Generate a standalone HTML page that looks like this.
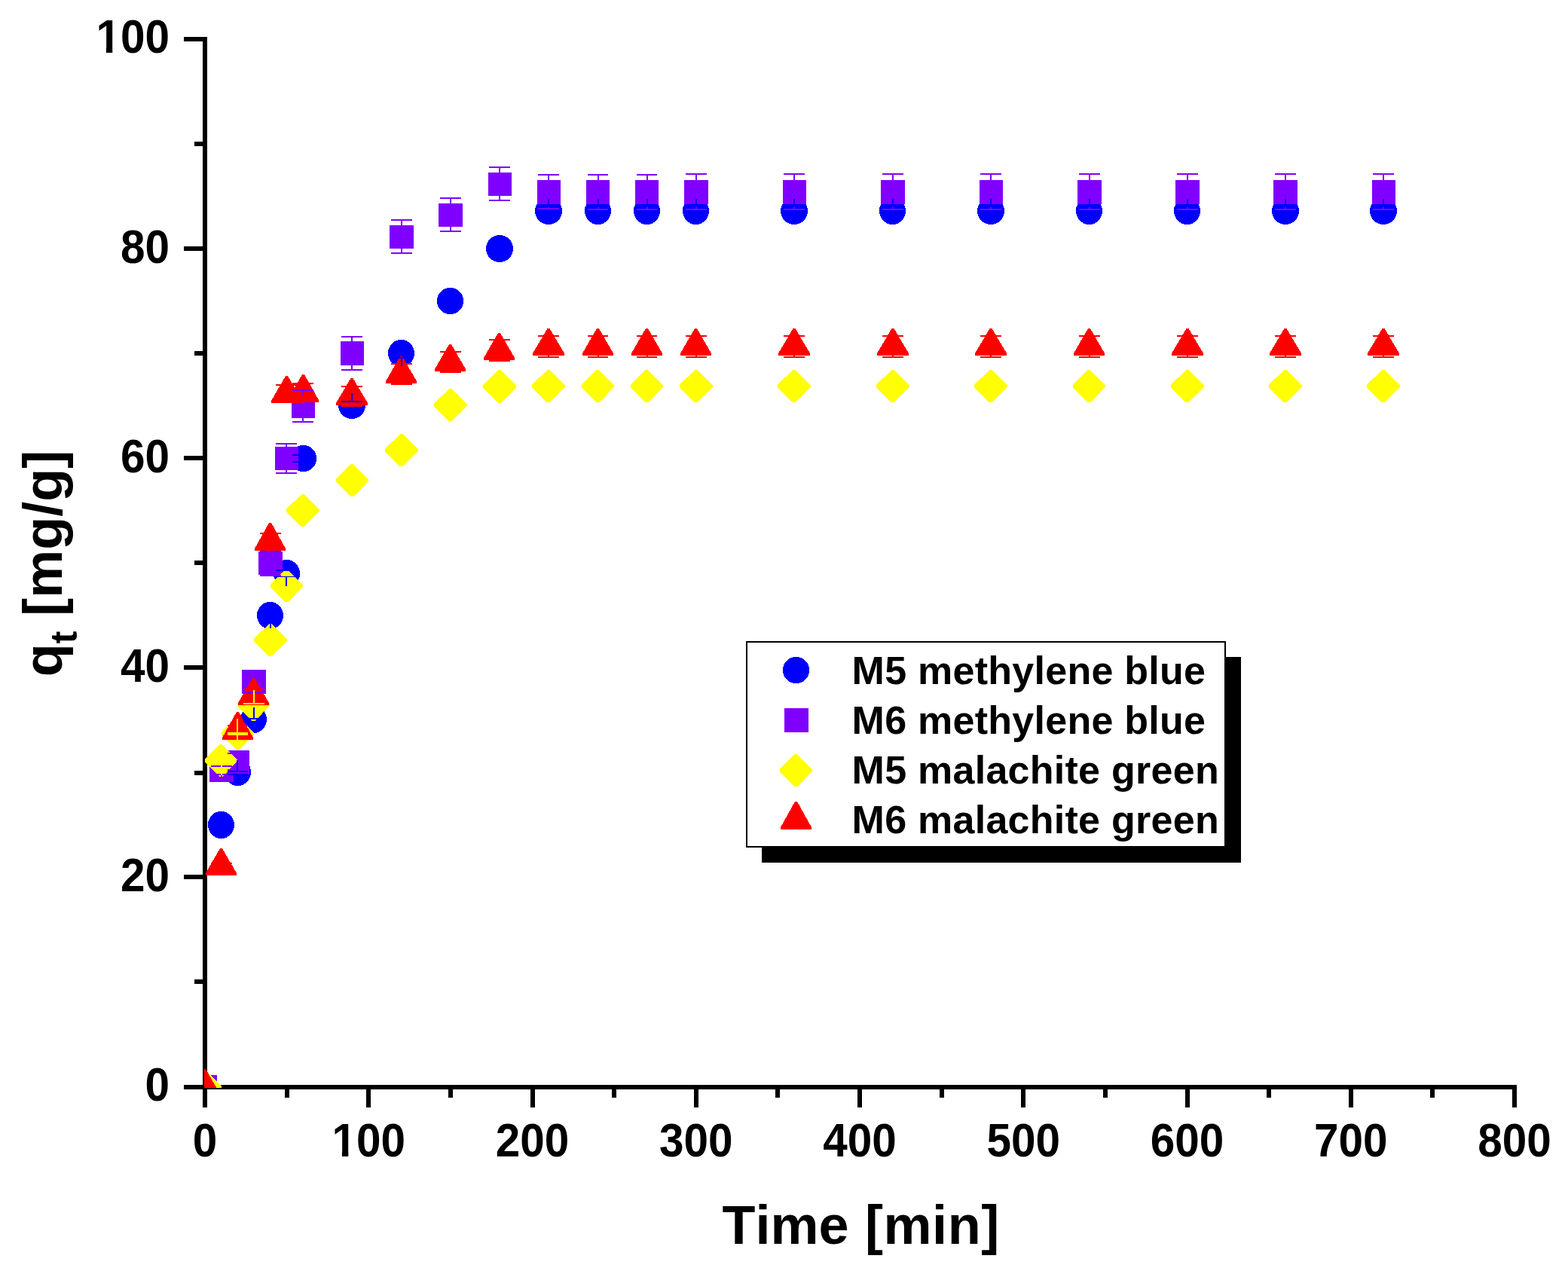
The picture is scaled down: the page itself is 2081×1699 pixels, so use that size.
<!DOCTYPE html>
<html lang="en">
<head>
<meta charset="utf-8">
<title>Adsorption kinetics: q_t versus time</title>
<style>
html, body { margin: 0; padding: 0; background: #ffffff; }
body { width: 2081px; height: 1699px; overflow: hidden; }
svg { display: block; }
text { font-kerning: none; }
</style>
</head>
<body>
<svg width="2081" height="1699" viewBox="0 0 2081 1699">
<defs><clipPath id="plot"><rect x="271" y="40" width="1760" height="1404"/></clipPath><clipPath id="one-end"><rect x="-110" y="-60" width="120" height="53.4"/><rect x="-86.3" y="-7" width="8.6" height="9"/><rect x="-66.7" y="-7" width="77" height="9"/></clipPath><clipPath id="one-mid"><rect x="-60" y="-60" width="120" height="53.4"/><rect x="-36.25" y="-7" width="8.6" height="9"/><rect x="-16.65" y="-7" width="77" height="9"/></clipPath></defs>
<rect width="2081" height="1699" fill="#fff"/>
<g id="axes" fill="#000" shape-rendering="crispEdges">
<rect x="269" y="49" width="6" height="1421"/>
<rect x="244" y="1440" width="1769" height="6"/>
<rect x="258" y="1300" width="11" height="6"/>
<rect x="244" y="1161" width="25" height="6"/>
<rect x="258" y="1023" width="11" height="6"/>
<rect x="244" y="883" width="25" height="6"/>
<rect x="258" y="744" width="11" height="6"/>
<rect x="244" y="605" width="25" height="6"/>
<rect x="258" y="466" width="11" height="6"/>
<rect x="244" y="327" width="25" height="6"/>
<rect x="258" y="188" width="11" height="6"/>
<rect x="244" y="49" width="25" height="6"/>
<rect x="378" y="1446" width="6" height="11"/>
<rect x="486" y="1446" width="6" height="24"/>
<rect x="595" y="1446" width="6" height="11"/>
<rect x="704" y="1446" width="6" height="24"/>
<rect x="812" y="1446" width="6" height="11"/>
<rect x="921" y="1446" width="6" height="24"/>
<rect x="1029" y="1446" width="6" height="11"/>
<rect x="1138" y="1446" width="6" height="24"/>
<rect x="1247" y="1446" width="6" height="11"/>
<rect x="1355" y="1446" width="6" height="24"/>
<rect x="1464" y="1446" width="6" height="11"/>
<rect x="1573" y="1446" width="6" height="24"/>
<rect x="1681" y="1446" width="6" height="11"/>
<rect x="1790" y="1446" width="6" height="24"/>
<rect x="1898" y="1446" width="6" height="11"/>
<rect x="2007" y="1446" width="6" height="24"/>
</g>
<g id="labels" font-family="'Liberation Sans', Arial, Helvetica, sans-serif" font-weight="bold" fill="#000">
<g font-size="60" text-anchor="end">
<text transform="translate(225 1461) scale(0.975 1.05)">0</text>
<text transform="translate(225 1183) scale(0.975 1.05)">20</text>
<text transform="translate(225 905) scale(0.975 1.05)">40</text>
<text transform="translate(225 627) scale(0.975 1.05)">60</text>
<text transform="translate(225 349) scale(0.975 1.05)">80</text>
<text transform="translate(225 70) scale(0.975 1.05)" clip-path="url(#one-end)">100</text>
</g>
<g font-size="60" text-anchor="middle">
<text transform="translate(272 1535) scale(0.975 1.05)">0</text>
<text transform="translate(489.25 1535) scale(0.975 1.05)" clip-path="url(#one-mid)">100</text>
<text transform="translate(706.5 1535) scale(0.975 1.05)">200</text>
<text transform="translate(923.75 1535) scale(0.975 1.05)">300</text>
<text transform="translate(1141 1535) scale(0.975 1.05)">400</text>
<text transform="translate(1358.25 1535) scale(0.975 1.05)">500</text>
<text transform="translate(1575.5 1535) scale(0.975 1.05)">600</text>
<text transform="translate(1792.75 1535) scale(0.975 1.05)">700</text>
<text transform="translate(2010 1535) scale(0.975 1.05)">800</text>
</g>
<text x="958.5" y="1651" font-size="72" word-spacing="1.35">Time <tspan letter-spacing="0.6">[min]</tspan></text>
<text transform="translate(82 748) rotate(-90)" font-size="72" text-anchor="middle">q<tspan font-size="50" dy="20">t</tspan><tspan dy="-20"> [mg/g]</tspan></text>
</g>
<g id="data" clip-path="url(#plot)" shape-rendering="crispEdges">
<g id="m5-methylene-blue"><ellipse cx="272" cy="1443" rx="18.1" ry="18.1" fill="#0000ff"/><ellipse cx="293.5" cy="1095" rx="17.6" ry="18.1" fill="#0000ff"/><ellipse cx="315.5" cy="1025" rx="17.6" ry="18.1" fill="#0000ff"/><ellipse cx="336.5" cy="955" rx="17.6" ry="18.1" fill="#0000ff"/><ellipse cx="358.5" cy="817" rx="17.6" ry="18.1" fill="#0000ff"/><ellipse cx="380.5" cy="761" rx="17.6" ry="18.1" fill="#0000ff"/><ellipse cx="402.5" cy="608.5" rx="17.6" ry="17.6" fill="#0000ff"/><ellipse cx="467" cy="538" rx="18.1" ry="18.1" fill="#0000ff"/><ellipse cx="532.5" cy="469" rx="17.6" ry="18.1" fill="#0000ff"/><ellipse cx="597.5" cy="399.5" rx="17.6" ry="17.6" fill="#0000ff"/><ellipse cx="663" cy="330" rx="18.1" ry="18.1" fill="#0000ff"/><ellipse cx="728" cy="280" rx="18.1" ry="18.1" fill="#0000ff"/><ellipse cx="793.5" cy="280" rx="17.6" ry="18.1" fill="#0000ff"/><ellipse cx="858.5" cy="280" rx="17.6" ry="18.1" fill="#0000ff"/><ellipse cx="923.5" cy="280" rx="17.6" ry="18.1" fill="#0000ff"/><ellipse cx="1054" cy="280" rx="18.1" ry="18.1" fill="#0000ff"/><ellipse cx="1184.5" cy="280" rx="17.6" ry="18.1" fill="#0000ff"/><ellipse cx="1315" cy="280" rx="18.1" ry="18.1" fill="#0000ff"/><ellipse cx="1445.5" cy="280" rx="17.6" ry="18.1" fill="#0000ff"/><ellipse cx="1575.5" cy="280" rx="17.6" ry="18.1" fill="#0000ff"/><ellipse cx="1706" cy="280" rx="18.1" ry="18.1" fill="#0000ff"/><ellipse cx="1836" cy="280" rx="18.1" ry="18.1" fill="#0000ff"/></g>
<g id="m6-methylene-blue"><rect x="256" y="1427" width="32" height="32" fill="#8000ff"/><rect x="278" y="1006" width="32" height="32" fill="#8000ff"/><rect x="300" y="996" width="31" height="32" fill="#8000ff"/><rect x="321" y="889" width="32" height="32" fill="#8000ff"/><rect x="343" y="732" width="32" height="31" fill="#8000ff"/><rect x="365" y="593" width="31" height="31" fill="#8000ff"/><rect x="387" y="523" width="31" height="32" fill="#8000ff"/><rect x="452" y="453" width="31" height="32" fill="#8000ff"/><rect x="517" y="299" width="32" height="31" fill="#8000ff"/><rect x="582" y="270" width="32" height="31" fill="#8000ff"/><rect x="648" y="229" width="31" height="31" fill="#8000ff"/><rect x="713" y="239" width="31" height="32" fill="#8000ff"/><rect x="778" y="239" width="31" height="32" fill="#8000ff"/><rect x="843" y="239" width="31" height="32" fill="#8000ff"/><rect x="908" y="239" width="32" height="32" fill="#8000ff"/><rect x="1039" y="239" width="31" height="32" fill="#8000ff"/><rect x="1169" y="239" width="32" height="32" fill="#8000ff"/><rect x="1300" y="239" width="31" height="32" fill="#8000ff"/><rect x="1430" y="239" width="32" height="32" fill="#8000ff"/><rect x="1560" y="239" width="32" height="32" fill="#8000ff"/><rect x="1690" y="239" width="32" height="32" fill="#8000ff"/><rect x="1821" y="239" width="31" height="32" fill="#8000ff"/></g>
<g id="m5-malachite-green"><polygon points="270.5,1421 273.5,1421 294,1442 294,1444 274,1465 270,1465 250,1445 250,1441" fill="#ffff00"/><polygon points="292,988 295,988 315,1008.5 315,1010.5 295.5,1031 291.5,1031 272,1011.5 272,1007.5" fill="#ffff00"/><polygon points="314,952 317,952 337,972.5 337,974.5 317.5,995 313.5,995 294,975.5 294,971.5" fill="#ffff00"/><polygon points="335,914 338,914 358,934.5 358,936.5 338.5,957 334.5,957 315,937.5 315,933.5" fill="#ffff00"/><polygon points="357.5,828 360.5,828 381,848.5 381,850.5 361,871 357,871 337,851.5 337,847.5" fill="#ffff00"/><polygon points="379,756 382,756 402,776.5 402,778.5 382.5,799 378.5,799 359,779.5 359,775.5" fill="#ffff00"/><polygon points="400.5,656 403.5,656 424,676.5 424,678.5 404,699 400,699 380,679.5 380,675.5" fill="#ffff00"/><polygon points="466,616 469,616 489,636.5 489,638.5 469.5,659 465.5,659 446,639.5 446,635.5" fill="#ffff00"/><polygon points="531.5,576 534.5,576 555,596.5 555,598.5 535,619 531,619 511,599.5 511,595.5" fill="#ffff00"/><polygon points="596.5,516 599.5,516 620,536.5 620,538.5 600,559 596,559 576,539.5 576,535.5" fill="#ffff00"/><polygon points="661.5,491 664.5,491 685,512 685,514 665,535 661,535 641,515 641,511" fill="#ffff00"/><polygon points="726.5,491 729.5,491 750,511.5 750,513.5 730,534 726,534 706,514.5 706,510.5" fill="#ffff00"/><polygon points="792,491 795,491 815,511.5 815,513.5 795.5,534 791.5,534 772,514.5 772,510.5" fill="#ffff00"/><polygon points="857,491 860,491 880,511.5 880,513.5 860.5,534 856.5,534 837,514.5 837,510.5" fill="#ffff00"/><polygon points="922.5,491 925.5,491 946,511.5 946,513.5 926,534 922,534 902,514.5 902,510.5" fill="#ffff00"/><polygon points="1052.5,491 1055.5,491 1076,511.5 1076,513.5 1056,534 1052,534 1032,514.5 1032,510.5" fill="#ffff00"/><polygon points="1183.5,491 1186.5,491 1207,511.5 1207,513.5 1187,534 1183,534 1163,514.5 1163,510.5" fill="#ffff00"/><polygon points="1313.5,491 1316.5,491 1337,511.5 1337,513.5 1317,534 1313,534 1293,514.5 1293,510.5" fill="#ffff00"/><polygon points="1444,491 1447,491 1467,511.5 1467,513.5 1447.5,534 1443.5,534 1424,514.5 1424,510.5" fill="#ffff00"/><polygon points="1574.5,491 1577.5,491 1598,511.5 1598,513.5 1578,534 1574,534 1554,514.5 1554,510.5" fill="#ffff00"/><polygon points="1704.5,491 1707.5,491 1728,511.5 1728,513.5 1708,534 1704,534 1684,514.5 1684,510.5" fill="#ffff00"/><polygon points="1834.5,491 1837.5,491 1858,511.5 1858,513.5 1838,534 1834,534 1814,514.5 1814,510.5" fill="#ffff00"/></g>
<g id="m6-malachite-green"><polygon points="270,1419 273,1419 292,1452 292,1455 251,1455 251,1452" fill="#ff0000"/><polygon points="292,1126 295,1126 314,1159 314,1162 273,1162 273,1159" fill="#ff0000"/><polygon points="314,945 317,945 336,979 336,982 295,982 295,979" fill="#ff0000"/><polygon points="335,900 338,900 357,933 357,936 316,936 316,933" fill="#ff0000"/><polygon points="357,694 360,694 379,728 379,731 338,731 338,728" fill="#ff0000"/><polygon points="379,499 382,499 401,532 401,535 360,535 360,532" fill="#ff0000"/><polygon points="401,497 404,497 423,531 423,534 382,534 382,531" fill="#ff0000"/><polygon points="465.5,502 468.5,502 488,535 488,538 446,538 446,535" fill="#ff0000"/><polygon points="531,473 534,473 553,506 553,509 512,509 512,506" fill="#ff0000"/><polygon points="596,457 599,457 618,490 618,493 577,493 577,490" fill="#ff0000"/><polygon points="661,442 664,442 683,475 683,478 642,478 642,475" fill="#ff0000"/><polygon points="726.5,436 729.5,436 749,469 749,472 707,472 707,469" fill="#ff0000"/><polygon points="792,436 795,436 814,469 814,472 773,472 773,469" fill="#ff0000"/><polygon points="857,436 860,436 879,469 879,472 838,472 838,469" fill="#ff0000"/><polygon points="922,436 925,436 944,469 944,472 903,472 903,469" fill="#ff0000"/><polygon points="1052.5,436 1055.5,436 1075,469 1075,472 1033,472 1033,469" fill="#ff0000"/><polygon points="1183.5,436 1186.5,436 1206,469 1206,472 1164,472 1164,469" fill="#ff0000"/><polygon points="1313.5,436 1316.5,436 1336,469 1336,472 1294,472 1294,469" fill="#ff0000"/><polygon points="1444,436 1447,436 1466,469 1466,472 1425,472 1425,469" fill="#ff0000"/><polygon points="1574.5,436 1577.5,436 1597,469 1597,472 1555,472 1555,469" fill="#ff0000"/><polygon points="1704.5,436 1707.5,436 1727,469 1727,472 1685,472 1685,469" fill="#ff0000"/><polygon points="1834.5,436 1837.5,436 1857,469 1857,472 1815,472 1815,469" fill="#ff0000"/></g>
<g id="err-m6mb"><rect x="280" y="1016" width="28" height="2" fill="#8000ff"/><rect x="280" y="1027" width="28" height="2" fill="#8000ff"/><rect x="293" y="1008" width="2" height="9" fill="#8000ff"/><rect x="293" y="1028" width="2" height="8" fill="#8000ff"/><rect x="302" y="999" width="27" height="2" fill="#8000ff"/><rect x="302" y="1021" width="27" height="2" fill="#8000ff"/><rect x="314" y="998" width="2" height="2" fill="#8000ff"/><rect x="314" y="1022" width="2" height="4" fill="#8000ff"/><rect x="323" y="889" width="28" height="2" fill="#8000ff"/><rect x="323" y="918" width="28" height="3" fill="#8000ff"/><rect x="336" y="890" width="2" height="1" fill="#8000ff"/><rect x="345" y="730" width="28" height="2" fill="#8000ff"/><rect x="345" y="763" width="28" height="2" fill="#8000ff"/><rect x="358" y="731" width="2" height="3" fill="#8000ff"/><rect x="358" y="761" width="2" height="3" fill="#8000ff"/><rect x="366" y="588" width="28" height="2" fill="#8000ff"/><rect x="366" y="627" width="28" height="2" fill="#8000ff"/><rect x="379" y="589" width="2" height="6" fill="#8000ff"/><rect x="379" y="622" width="2" height="6" fill="#8000ff"/><rect x="388" y="517" width="28" height="2" fill="#8000ff"/><rect x="388" y="559" width="28" height="2" fill="#8000ff"/><rect x="401" y="518" width="2" height="7" fill="#8000ff"/><rect x="401" y="553" width="2" height="7" fill="#8000ff"/><rect x="453" y="446" width="28" height="2" fill="#8000ff"/><rect x="453" y="490" width="28" height="2" fill="#8000ff"/><rect x="466" y="447" width="2" height="8" fill="#8000ff"/><rect x="466" y="483" width="2" height="8" fill="#8000ff"/><rect x="519" y="291" width="28" height="2" fill="#8000ff"/><rect x="519" y="335" width="28" height="2" fill="#8000ff"/><rect x="532" y="292" width="2" height="9" fill="#8000ff"/><rect x="532" y="328" width="2" height="8" fill="#8000ff"/><rect x="584" y="262" width="28" height="2" fill="#8000ff"/><rect x="584" y="306" width="28" height="2" fill="#8000ff"/><rect x="597" y="263" width="2" height="9" fill="#8000ff"/><rect x="597" y="299" width="2" height="8" fill="#8000ff"/><rect x="649" y="221" width="28" height="2" fill="#8000ff"/><rect x="649" y="265" width="28" height="2" fill="#8000ff"/><rect x="662" y="222" width="2" height="9" fill="#8000ff"/><rect x="662" y="258" width="2" height="8" fill="#8000ff"/><rect x="714" y="231" width="28" height="2" fill="#8000ff"/><rect x="714" y="276" width="28" height="2" fill="#8000ff"/><rect x="727" y="232" width="2" height="9" fill="#8000ff"/><rect x="727" y="269" width="2" height="8" fill="#8000ff"/><rect x="780" y="231" width="27" height="2" fill="#8000ff"/><rect x="780" y="277" width="27" height="2" fill="#8000ff"/><rect x="793" y="232" width="2" height="9" fill="#8000ff"/><rect x="793" y="269" width="2" height="9" fill="#8000ff"/><rect x="845" y="231" width="27" height="2" fill="#8000ff"/><rect x="845" y="277" width="27" height="2" fill="#8000ff"/><rect x="858" y="232" width="2" height="9" fill="#8000ff"/><rect x="858" y="269" width="2" height="9" fill="#8000ff"/><rect x="910" y="230" width="28" height="2" fill="#8000ff"/><rect x="910" y="277" width="28" height="2" fill="#8000ff"/><rect x="923" y="231" width="2" height="10" fill="#8000ff"/><rect x="923" y="269" width="2" height="9" fill="#8000ff"/><rect x="1040" y="230" width="28" height="2" fill="#8000ff"/><rect x="1040" y="277" width="28" height="2" fill="#8000ff"/><rect x="1053" y="231" width="2" height="10" fill="#8000ff"/><rect x="1053" y="269" width="2" height="9" fill="#8000ff"/><rect x="1171" y="230" width="28" height="2" fill="#8000ff"/><rect x="1171" y="277" width="28" height="2" fill="#8000ff"/><rect x="1184" y="231" width="2" height="10" fill="#8000ff"/><rect x="1184" y="269" width="2" height="9" fill="#8000ff"/><rect x="1301" y="230" width="28" height="2" fill="#8000ff"/><rect x="1301" y="277" width="28" height="2" fill="#8000ff"/><rect x="1314" y="231" width="2" height="10" fill="#8000ff"/><rect x="1314" y="269" width="2" height="9" fill="#8000ff"/><rect x="1432" y="230" width="28" height="2" fill="#8000ff"/><rect x="1432" y="277" width="28" height="2" fill="#8000ff"/><rect x="1445" y="231" width="2" height="10" fill="#8000ff"/><rect x="1445" y="269" width="2" height="9" fill="#8000ff"/><rect x="1562" y="230" width="28" height="2" fill="#8000ff"/><rect x="1562" y="277" width="28" height="2" fill="#8000ff"/><rect x="1575" y="231" width="2" height="10" fill="#8000ff"/><rect x="1575" y="269" width="2" height="9" fill="#8000ff"/><rect x="1692" y="230" width="28" height="2" fill="#8000ff"/><rect x="1692" y="277" width="28" height="2" fill="#8000ff"/><rect x="1705" y="231" width="2" height="10" fill="#8000ff"/><rect x="1705" y="269" width="2" height="9" fill="#8000ff"/><rect x="1822" y="230" width="28" height="2" fill="#8000ff"/><rect x="1822" y="277" width="28" height="2" fill="#8000ff"/><rect x="1835" y="231" width="2" height="10" fill="#8000ff"/><rect x="1835" y="269" width="2" height="9" fill="#8000ff"/></g>
<g id="err-m6mg"><rect x="280" y="1145" width="28" height="2" fill="#ff0000"/><rect x="280" y="1153" width="28" height="2" fill="#ff0000"/><rect x="293" y="1129" width="2" height="17" fill="#ff0000"/><rect x="293" y="1154" width="2" height="7" fill="#ff0000"/><rect x="302" y="962" width="27" height="2" fill="#ff0000"/><rect x="302" y="976" width="27" height="2" fill="#ff0000"/><rect x="314" y="948" width="2" height="15" fill="#ff0000"/><rect x="314" y="977" width="2" height="4" fill="#ff0000"/><rect x="323" y="914" width="28" height="2" fill="#ff0000"/><rect x="323" y="932" width="28" height="2" fill="#ff0000"/><rect x="336" y="903" width="2" height="12" fill="#ff0000"/><rect x="336" y="933" width="2" height="2" fill="#ff0000"/><rect x="345" y="707" width="28" height="2" fill="#ff0000"/><rect x="345" y="729" width="28" height="2" fill="#ff0000"/><rect x="358" y="697" width="2" height="11" fill="#ff0000"/><rect x="366" y="510" width="28" height="2" fill="#ff0000"/><rect x="366" y="533" width="28" height="2" fill="#ff0000"/><rect x="379" y="502" width="2" height="9" fill="#ff0000"/><rect x="388" y="508" width="28" height="2" fill="#ff0000"/><rect x="388" y="532" width="28" height="2" fill="#ff0000"/><rect x="401" y="500" width="2" height="9" fill="#ff0000"/><rect x="453" y="512" width="28" height="2" fill="#ff0000"/><rect x="453" y="538" width="28" height="2" fill="#ff0000"/><rect x="466" y="505" width="2" height="8" fill="#ff0000"/><rect x="466" y="537" width="2" height="2" fill="#ff0000"/><rect x="519" y="482" width="28" height="2" fill="#ff0000"/><rect x="519" y="509" width="28" height="2" fill="#ff0000"/><rect x="532" y="476" width="2" height="7" fill="#ff0000"/><rect x="532" y="508" width="2" height="2" fill="#ff0000"/><rect x="584" y="466" width="28" height="2" fill="#ff0000"/><rect x="584" y="493" width="28" height="2" fill="#ff0000"/><rect x="597" y="460" width="2" height="7" fill="#ff0000"/><rect x="597" y="492" width="2" height="2" fill="#ff0000"/><rect x="649" y="450" width="28" height="2" fill="#ff0000"/><rect x="649" y="478" width="28" height="2" fill="#ff0000"/><rect x="662" y="445" width="2" height="6" fill="#ff0000"/><rect x="662" y="477" width="2" height="2" fill="#ff0000"/><rect x="714" y="445" width="28" height="2" fill="#ff0000"/><rect x="714" y="473" width="28" height="2" fill="#ff0000"/><rect x="727" y="439" width="2" height="7" fill="#ff0000"/><rect x="727" y="471" width="2" height="3" fill="#ff0000"/><rect x="780" y="445" width="27" height="2" fill="#ff0000"/><rect x="780" y="473" width="27" height="2" fill="#ff0000"/><rect x="793" y="439" width="2" height="7" fill="#ff0000"/><rect x="793" y="471" width="2" height="3" fill="#ff0000"/><rect x="845" y="445" width="27" height="2" fill="#ff0000"/><rect x="845" y="473" width="27" height="2" fill="#ff0000"/><rect x="858" y="439" width="2" height="7" fill="#ff0000"/><rect x="858" y="471" width="2" height="3" fill="#ff0000"/><rect x="910" y="445" width="28" height="2" fill="#ff0000"/><rect x="910" y="473" width="28" height="2" fill="#ff0000"/><rect x="923" y="439" width="2" height="7" fill="#ff0000"/><rect x="923" y="471" width="2" height="3" fill="#ff0000"/><rect x="1040" y="445" width="28" height="2" fill="#ff0000"/><rect x="1040" y="473" width="28" height="2" fill="#ff0000"/><rect x="1053" y="439" width="2" height="7" fill="#ff0000"/><rect x="1053" y="471" width="2" height="3" fill="#ff0000"/><rect x="1171" y="445" width="28" height="2" fill="#ff0000"/><rect x="1171" y="473" width="28" height="2" fill="#ff0000"/><rect x="1184" y="439" width="2" height="7" fill="#ff0000"/><rect x="1184" y="471" width="2" height="3" fill="#ff0000"/><rect x="1301" y="445" width="28" height="2" fill="#ff0000"/><rect x="1301" y="473" width="28" height="2" fill="#ff0000"/><rect x="1314" y="439" width="2" height="7" fill="#ff0000"/><rect x="1314" y="471" width="2" height="3" fill="#ff0000"/><rect x="1432" y="445" width="28" height="2" fill="#ff0000"/><rect x="1432" y="473" width="28" height="2" fill="#ff0000"/><rect x="1445" y="439" width="2" height="7" fill="#ff0000"/><rect x="1445" y="471" width="2" height="3" fill="#ff0000"/><rect x="1562" y="445" width="28" height="2" fill="#ff0000"/><rect x="1562" y="473" width="28" height="2" fill="#ff0000"/><rect x="1575" y="439" width="2" height="7" fill="#ff0000"/><rect x="1575" y="471" width="2" height="3" fill="#ff0000"/><rect x="1692" y="445" width="28" height="2" fill="#ff0000"/><rect x="1692" y="473" width="28" height="2" fill="#ff0000"/><rect x="1705" y="439" width="2" height="7" fill="#ff0000"/><rect x="1705" y="471" width="2" height="3" fill="#ff0000"/><rect x="1822" y="445" width="28" height="2" fill="#ff0000"/><rect x="1822" y="473" width="28" height="2" fill="#ff0000"/><rect x="1835" y="439" width="2" height="7" fill="#ff0000"/><rect x="1835" y="471" width="2" height="3" fill="#ff0000"/></g>
<g id="err-m5mg"><rect x="280" y="1008" width="28" height="2" fill="#ffff00"/><rect x="280" y="1010" width="28" height="2" fill="#ffff00"/><rect x="293" y="990" width="2" height="19" fill="#ffff00"/><rect x="293" y="1011" width="2" height="18" fill="#ffff00"/><rect x="302" y="972" width="27" height="2" fill="#ffff00"/><rect x="302" y="974" width="27" height="2" fill="#ffff00"/><rect x="314" y="954" width="2" height="19" fill="#ffff00"/><rect x="314" y="975" width="2" height="18" fill="#ffff00"/><rect x="323" y="933" width="28" height="2" fill="#ffff00"/><rect x="323" y="937" width="28" height="2" fill="#ffff00"/><rect x="336" y="916" width="2" height="18" fill="#ffff00"/><rect x="336" y="938" width="2" height="17" fill="#ffff00"/><rect x="345" y="845" width="28" height="2" fill="#ffff00"/><rect x="345" y="853" width="28" height="2" fill="#ffff00"/><rect x="358" y="830" width="2" height="16" fill="#ffff00"/><rect x="358" y="854" width="2" height="15" fill="#ffff00"/><rect x="366" y="772" width="28" height="2" fill="#ffff00"/><rect x="366" y="782" width="28" height="2" fill="#ffff00"/><rect x="379" y="758" width="2" height="15" fill="#ffff00"/><rect x="379" y="783" width="2" height="14" fill="#ffff00"/><rect x="388" y="670" width="28" height="2" fill="#ffff00"/><rect x="388" y="682" width="28" height="2" fill="#ffff00"/><rect x="401" y="658" width="2" height="13" fill="#ffff00"/><rect x="401" y="683" width="2" height="14" fill="#ffff00"/><rect x="453" y="630" width="28" height="2" fill="#ffff00"/><rect x="453" y="644" width="28" height="2" fill="#ffff00"/><rect x="466" y="618" width="2" height="13" fill="#ffff00"/><rect x="466" y="645" width="2" height="12" fill="#ffff00"/><rect x="519" y="589" width="28" height="2" fill="#ffff00"/><rect x="519" y="604" width="28" height="2" fill="#ffff00"/><rect x="532" y="578" width="2" height="12" fill="#ffff00"/><rect x="532" y="605" width="2" height="12" fill="#ffff00"/><rect x="584" y="528" width="28" height="2" fill="#ffff00"/><rect x="584" y="546" width="28" height="2" fill="#ffff00"/><rect x="597" y="518" width="2" height="11" fill="#ffff00"/><rect x="597" y="547" width="2" height="10" fill="#ffff00"/><rect x="649" y="503" width="28" height="2" fill="#ffff00"/><rect x="649" y="521" width="28" height="2" fill="#ffff00"/><rect x="662" y="493" width="2" height="11" fill="#ffff00"/><rect x="662" y="522" width="2" height="11" fill="#ffff00"/><rect x="714" y="503" width="28" height="2" fill="#ffff00"/><rect x="714" y="521" width="28" height="2" fill="#ffff00"/><rect x="727" y="493" width="2" height="11" fill="#ffff00"/><rect x="727" y="522" width="2" height="10" fill="#ffff00"/><rect x="780" y="503" width="27" height="2" fill="#ffff00"/><rect x="780" y="521" width="27" height="2" fill="#ffff00"/><rect x="793" y="493" width="2" height="11" fill="#ffff00"/><rect x="793" y="522" width="2" height="10" fill="#ffff00"/><rect x="845" y="503" width="27" height="2" fill="#ffff00"/><rect x="845" y="521" width="27" height="2" fill="#ffff00"/><rect x="858" y="493" width="2" height="11" fill="#ffff00"/><rect x="858" y="522" width="2" height="10" fill="#ffff00"/><rect x="910" y="503" width="28" height="2" fill="#ffff00"/><rect x="910" y="521" width="28" height="2" fill="#ffff00"/><rect x="923" y="493" width="2" height="11" fill="#ffff00"/><rect x="923" y="522" width="2" height="10" fill="#ffff00"/><rect x="1040" y="503" width="28" height="2" fill="#ffff00"/><rect x="1040" y="521" width="28" height="2" fill="#ffff00"/><rect x="1053" y="493" width="2" height="11" fill="#ffff00"/><rect x="1053" y="522" width="2" height="10" fill="#ffff00"/><rect x="1171" y="503" width="28" height="2" fill="#ffff00"/><rect x="1171" y="521" width="28" height="2" fill="#ffff00"/><rect x="1184" y="493" width="2" height="11" fill="#ffff00"/><rect x="1184" y="522" width="2" height="10" fill="#ffff00"/><rect x="1301" y="503" width="28" height="2" fill="#ffff00"/><rect x="1301" y="521" width="28" height="2" fill="#ffff00"/><rect x="1314" y="493" width="2" height="11" fill="#ffff00"/><rect x="1314" y="522" width="2" height="10" fill="#ffff00"/><rect x="1432" y="503" width="28" height="2" fill="#ffff00"/><rect x="1432" y="521" width="28" height="2" fill="#ffff00"/><rect x="1445" y="493" width="2" height="11" fill="#ffff00"/><rect x="1445" y="522" width="2" height="10" fill="#ffff00"/><rect x="1562" y="503" width="28" height="2" fill="#ffff00"/><rect x="1562" y="521" width="28" height="2" fill="#ffff00"/><rect x="1575" y="493" width="2" height="11" fill="#ffff00"/><rect x="1575" y="522" width="2" height="10" fill="#ffff00"/><rect x="1692" y="503" width="28" height="2" fill="#ffff00"/><rect x="1692" y="521" width="28" height="2" fill="#ffff00"/><rect x="1705" y="493" width="2" height="11" fill="#ffff00"/><rect x="1705" y="522" width="2" height="10" fill="#ffff00"/><rect x="1822" y="503" width="28" height="2" fill="#ffff00"/><rect x="1822" y="521" width="28" height="2" fill="#ffff00"/><rect x="1835" y="493" width="2" height="11" fill="#ffff00"/><rect x="1835" y="522" width="2" height="10" fill="#ffff00"/></g>
<g id="err-m5mb"><rect x="280" y="1093" width="28" height="2" fill="#0000ff"/><rect x="280" y="1096" width="28" height="2" fill="#0000ff"/><rect x="293" y="1079" width="2" height="15" fill="#0000ff"/><rect x="293" y="1097" width="2" height="15" fill="#0000ff"/><rect x="302" y="1023" width="27" height="2" fill="#0000ff"/><rect x="302" y="1027" width="27" height="2" fill="#0000ff"/><rect x="314" y="1009" width="2" height="15" fill="#0000ff"/><rect x="314" y="1028" width="2" height="14" fill="#0000ff"/><rect x="323" y="953" width="28" height="2" fill="#0000ff"/><rect x="323" y="957" width="28" height="2" fill="#0000ff"/><rect x="336" y="939" width="2" height="15" fill="#0000ff"/><rect x="336" y="958" width="2" height="14" fill="#0000ff"/><rect x="345" y="813" width="28" height="2" fill="#0000ff"/><rect x="345" y="820" width="28" height="2" fill="#0000ff"/><rect x="358" y="801" width="2" height="13" fill="#0000ff"/><rect x="358" y="821" width="2" height="13" fill="#0000ff"/><rect x="366" y="756" width="28" height="2" fill="#0000ff"/><rect x="366" y="765" width="28" height="1" fill="#0000ff"/><rect x="379" y="745" width="2" height="12" fill="#0000ff"/><rect x="379" y="766" width="2" height="12" fill="#0000ff"/><rect x="388" y="603" width="28" height="2" fill="#0000ff"/><rect x="388" y="612" width="28" height="2" fill="#0000ff"/><rect x="401" y="592" width="2" height="12" fill="#0000ff"/><rect x="401" y="613" width="2" height="12" fill="#0000ff"/><rect x="453" y="532" width="28" height="2" fill="#0000ff"/><rect x="453" y="544" width="28" height="2" fill="#0000ff"/><rect x="466" y="522" width="2" height="11" fill="#0000ff"/><rect x="466" y="545" width="2" height="10" fill="#0000ff"/><rect x="519" y="462" width="28" height="2" fill="#0000ff"/><rect x="519" y="474" width="28" height="2" fill="#0000ff"/><rect x="532" y="453" width="2" height="10" fill="#0000ff"/><rect x="532" y="475" width="2" height="11" fill="#0000ff"/><rect x="584" y="393" width="28" height="2" fill="#0000ff"/><rect x="584" y="405" width="28" height="2" fill="#0000ff"/><rect x="597" y="383" width="2" height="11" fill="#0000ff"/><rect x="597" y="406" width="2" height="10" fill="#0000ff"/><rect x="649" y="323" width="28" height="2" fill="#0000ff"/><rect x="649" y="335" width="28" height="2" fill="#0000ff"/><rect x="662" y="314" width="2" height="10" fill="#0000ff"/><rect x="662" y="336" width="2" height="11" fill="#0000ff"/><rect x="714" y="273" width="28" height="2" fill="#0000ff"/><rect x="714" y="285" width="28" height="2" fill="#0000ff"/><rect x="727" y="264" width="2" height="10" fill="#0000ff"/><rect x="727" y="286" width="2" height="11" fill="#0000ff"/><rect x="780" y="273" width="27" height="2" fill="#0000ff"/><rect x="780" y="285" width="27" height="2" fill="#0000ff"/><rect x="793" y="264" width="2" height="10" fill="#0000ff"/><rect x="793" y="286" width="2" height="11" fill="#0000ff"/><rect x="845" y="273" width="27" height="2" fill="#0000ff"/><rect x="845" y="285" width="27" height="2" fill="#0000ff"/><rect x="858" y="264" width="2" height="10" fill="#0000ff"/><rect x="858" y="286" width="2" height="11" fill="#0000ff"/><rect x="910" y="273" width="28" height="2" fill="#0000ff"/><rect x="910" y="285" width="28" height="2" fill="#0000ff"/><rect x="923" y="264" width="2" height="10" fill="#0000ff"/><rect x="923" y="286" width="2" height="11" fill="#0000ff"/><rect x="1040" y="273" width="28" height="2" fill="#0000ff"/><rect x="1040" y="285" width="28" height="2" fill="#0000ff"/><rect x="1053" y="264" width="2" height="10" fill="#0000ff"/><rect x="1053" y="286" width="2" height="11" fill="#0000ff"/><rect x="1171" y="273" width="28" height="2" fill="#0000ff"/><rect x="1171" y="285" width="28" height="2" fill="#0000ff"/><rect x="1184" y="264" width="2" height="10" fill="#0000ff"/><rect x="1184" y="286" width="2" height="11" fill="#0000ff"/><rect x="1301" y="273" width="28" height="2" fill="#0000ff"/><rect x="1301" y="285" width="28" height="2" fill="#0000ff"/><rect x="1314" y="264" width="2" height="10" fill="#0000ff"/><rect x="1314" y="286" width="2" height="11" fill="#0000ff"/><rect x="1432" y="273" width="28" height="2" fill="#0000ff"/><rect x="1432" y="285" width="28" height="2" fill="#0000ff"/><rect x="1445" y="264" width="2" height="10" fill="#0000ff"/><rect x="1445" y="286" width="2" height="11" fill="#0000ff"/><rect x="1562" y="273" width="28" height="2" fill="#0000ff"/><rect x="1562" y="285" width="28" height="2" fill="#0000ff"/><rect x="1575" y="264" width="2" height="10" fill="#0000ff"/><rect x="1575" y="286" width="2" height="11" fill="#0000ff"/><rect x="1692" y="273" width="28" height="2" fill="#0000ff"/><rect x="1692" y="285" width="28" height="2" fill="#0000ff"/><rect x="1705" y="264" width="2" height="10" fill="#0000ff"/><rect x="1705" y="286" width="2" height="11" fill="#0000ff"/><rect x="1822" y="273" width="28" height="2" fill="#0000ff"/><rect x="1822" y="285" width="28" height="2" fill="#0000ff"/><rect x="1835" y="264" width="2" height="10" fill="#0000ff"/><rect x="1835" y="286" width="2" height="11" fill="#0000ff"/></g>
</g>
<g id="legend" shape-rendering="crispEdges">
<rect x="1011" y="872" width="636" height="273" fill="#000"/>
<rect x="991" y="852" width="635" height="272" fill="#fff" stroke="#000" stroke-width="2"/>
<ellipse cx="1056.5" cy="889.5" rx="17.6" ry="17.6" fill="#0000ff"/>
<rect x="1041" y="940" width="32" height="32" fill="#8000ff"/>
<polygon points="1055,1001 1058,1001 1078,1021.5 1078,1023.5 1058.5,1044 1054.5,1044 1035,1024.5 1035,1020.5" fill="#ffff00"/>
<polygon points="1055,1064 1058,1064 1077,1098 1077,1101 1036,1101 1036,1098" fill="#ff0000"/>
</g>
<g id="legend-text" font-family="'Liberation Sans', Arial, Helvetica, sans-serif" font-weight="bold" font-size="52" fill="#000" letter-spacing="0.26">
<text x="1130.6" y="908">M5 methylene blue</text>
<text x="1130.6" y="974">M6 methylene blue</text>
<text x="1130.6" y="1040">M5 malachite green</text>
<text x="1130.6" y="1106">M6 malachite green</text>
</g>
</svg>
</body>
</html>
